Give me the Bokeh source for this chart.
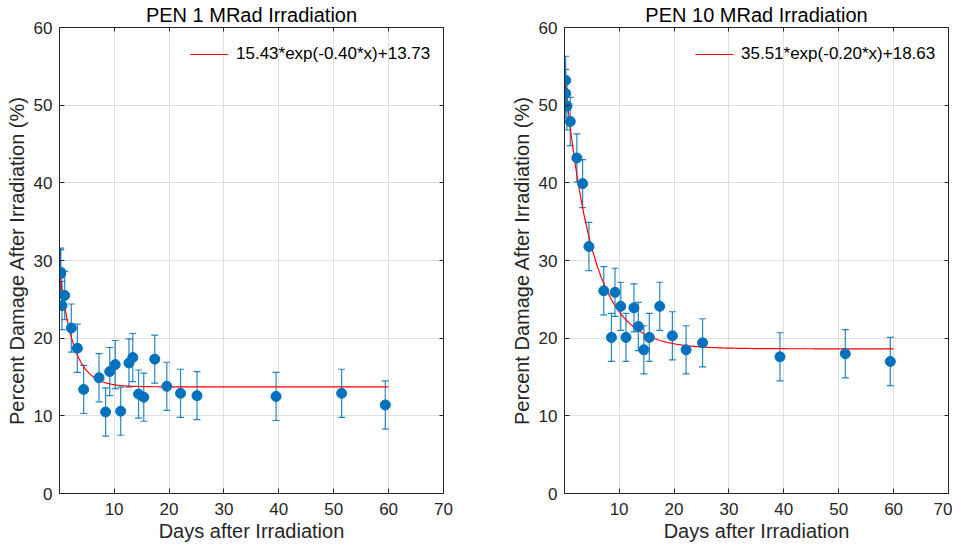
import numpy as np
from bokeh.plotting import figure
from bokeh.models import (ColumnDataSource, Whisker, TeeHead, LinearAxis,
                          FixedTicker, Range1d, Legend, LegendItem)
from bokeh.layouts import row
from bokeh.embed import file_html
from bokeh.resources import INLINE

# ---------------- data ----------------
days_1 = [0.26, 0.26, 0.5, 1.0, 2.2, 3.3, 4.45, 7.25, 8.45, 9.2, 10.2, 11.2,
          12.7, 13.4, 14.45, 15.4, 17.4, 19.6, 22.1, 25.1, 39.5, 51.45, 59.4]
damage_1 = [28.5, 28.3, 24.2, 25.5, 21.3, 18.7, 13.4, 14.9, 10.5, 15.7, 16.6,
            10.6, 16.8, 17.5, 12.8, 12.4, 17.3, 13.8, 12.9, 12.6, 12.5, 12.9, 11.4]
err_1 = [3.1] * len(days_1)

days_10 = [0.26, 0.26, 0.5, 1.1, 2.3, 3.35, 4.5, 7.2, 8.6, 9.25, 10.3, 11.25,
           12.7, 13.5, 14.5, 15.5, 17.4, 19.7, 22.2, 25.2, 39.3, 51.2, 59.4]
damage_10 = [53.2, 51.5, 49.9, 47.9, 43.2, 39.9, 31.8, 26.1, 20.1, 25.9, 24.1,
             20.1, 23.9, 21.5, 18.5, 20.1, 24.1, 20.3, 18.5, 19.4, 17.6, 18.0, 17.0]
err_10 = [3.1] * len(days_10)

# fitted model parameters shown in the legends: a*exp(b*x)+c
fit_1 = (15.43, -0.40, 13.73)
fit_10 = (35.51, -0.20, 18.63)
fit_x_range = (0.1, 60.0)

titles = ["PEN 1 MRad Irradiation", "PEN 10 MRad Irradiation"]
x_ticks = [10, 20, 30, 40, 50, 60, 70]
y_ticks = [0, 10, 20, 30, 40, 50, 60]

BLUE = "#0072BD"
RED = "#FF0000"
AX = "#262626"
FONT = "Liberation Sans"


def make_panel(days, damage, err, fit, title, left_border, right_border):
    p = figure(frame_width=384, frame_height=466,
               x_range=Range1d(0.05, 70), y_range=Range1d(0, 60),
               output_backend="svg", toolbar_location=None,
               min_border_left=left_border, min_border_right=right_border,
               min_border_top=20, min_border_bottom=46,
               background_fill_color="white", border_fill_color="white")
    p.outline_line_color = AX

    # data
    upper = [d + e for d, e in zip(damage, err)]
    lower = [d - e for d, e in zip(damage, err)]
    src = ColumnDataSource(dict(x=days, y=damage, upper=upper, lower=lower))

    # fitted curve (from the model parameters printed in the legend)
    a, b, c = fit
    fx = np.linspace(fit_x_range[0], fit_x_range[1], 400)
    fy = a * np.exp(b * fx) + c
    line = p.line(fx, fy, line_color=RED, line_width=1.2)

    wh = Whisker(source=src, base="x", upper="upper", lower="lower",
                 dimension="height", line_color=BLUE, line_width=1.2,
                 line_alpha=0.85,
                 upper_head=TeeHead(size=7, line_color=BLUE, line_width=1.2, line_alpha=0.85),
                 lower_head=TeeHead(size=7, line_color=BLUE, line_width=1.2, line_alpha=0.85))
    p.add_layout(wh)
    p.scatter("x", "y", source=src, marker="circle", size=10,
              fill_color=BLUE, line_color=BLUE)

    # axes
    for ax in (p.xaxis[0], p.yaxis[0]):
        ax.major_tick_in = 5
        ax.major_tick_out = 0
        ax.minor_tick_line_color = None
        ax.axis_line_color = AX
        ax.major_tick_line_color = AX
        ax.major_label_text_color = AX
        ax.major_label_text_font = FONT
        ax.major_label_text_font_size = "17px"
        ax.axis_label_text_font = FONT
        ax.axis_label_text_font_size = "20px"
        ax.axis_label_text_font_style = "normal"
        ax.axis_label_text_color = AX
    p.xaxis.ticker = FixedTicker(ticks=x_ticks)
    p.yaxis.ticker = FixedTicker(ticks=y_ticks)
    p.xaxis.axis_label = "Days after Irradiation"
    p.yaxis.axis_label = "Percent Damage After Irradiation (%)"
    p.xaxis.major_label_standoff = 9
    p.xaxis.axis_label_standoff = 2
    p.yaxis.major_label_standoff = 7
    p.yaxis.axis_label_standoff = 3

    # box: top axis (carries the title) and right axis, ticks only
    top = LinearAxis(ticker=FixedTicker(ticks=x_ticks), axis_label=title,
                     major_tick_in=4, major_tick_out=0,
                     minor_tick_line_color=None,
                     major_label_text_font_size="1px",
                     major_label_text_color=None, major_label_standoff=0,
                     axis_line_color=AX, major_tick_line_color=AX,
                     axis_label_text_font=FONT, axis_label_text_font_size="20px",
                     axis_label_text_font_style="normal",
                     axis_label_text_color="black", axis_label_standoff=2)
    p.add_layout(top, "above")
    right = LinearAxis(ticker=FixedTicker(ticks=y_ticks),
                       major_tick_in=4, major_tick_out=0,
                       minor_tick_line_color=None,
                       major_label_text_font_size="1px",
                       major_label_text_color=None, major_label_standoff=0,
                       axis_line_color=AX, major_tick_line_color=AX)
    p.add_layout(right, "right")

    # grid
    p.xgrid.ticker = FixedTicker(ticks=x_ticks)
    p.ygrid.ticker = FixedTicker(ticks=y_ticks)
    for g in (p.xgrid[0], p.ygrid[0]):
        g.grid_line_color = "#dfdfdf"
        g.grid_line_width = 1

    # legend (transparent, no box)
    label = f"{a:.2f}*exp({b:.2f}*x)+{c:.2f}"
    leg = Legend(items=[LegendItem(label=label, renderers=[line])],
                 location=(126, 424), background_fill_alpha=0,
                 border_line_alpha=0, glyph_width=38, glyph_height=20,
                 label_standoff=8, padding=5, margin=0,
                 label_text_font=FONT, label_text_font_size="17px",
                 label_text_color="black")
    p.add_layout(leg)
    return p


p1 = make_panel(days_1, damage_1, err_1, fit_1, titles[0], 59, 64)
p2 = make_panel(days_10, damage_10, err_10, fit_10, titles[1], 56, 4)

layout = row(p1, p2)
open("out.html", "w").write(file_html(layout, INLINE))
